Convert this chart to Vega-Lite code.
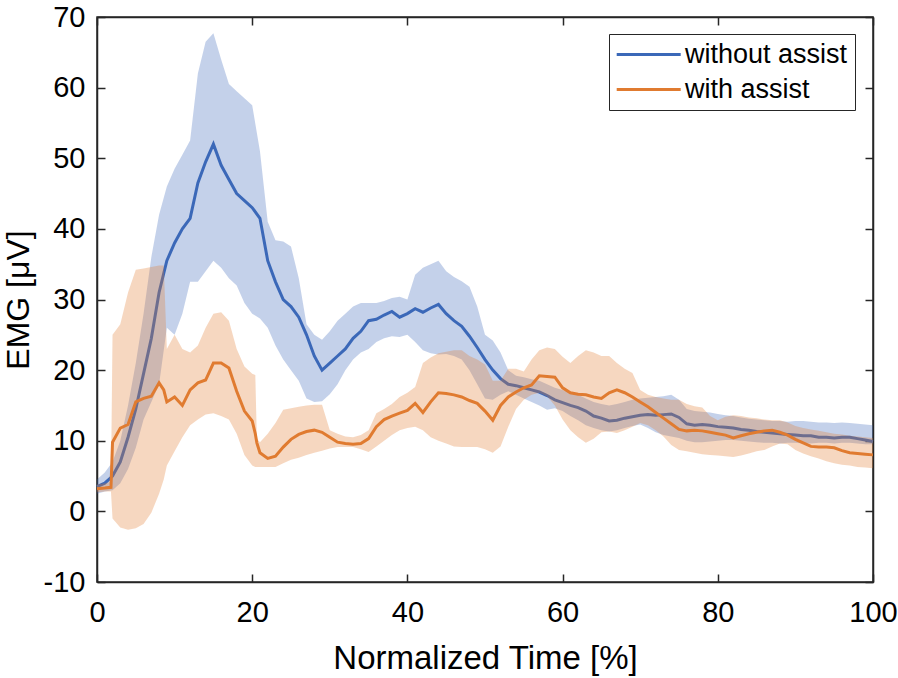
{
  "$schema": "https://vega.github.io/schema/vega-lite/v6.json",
  "width": 776,
  "height": 565,
  "autosize": "none",
  "padding": {"left": 97, "top": 17, "right": 25, "bottom": 96},
  "background": "#ffffff",
  "datasets": {
    "without": [
      {"t":0,"m":3.5,"lo":2.5,"hi":4.5},{"t":1,"m":4.0,"lo":2.8,"hi":5.5},{"t":2,"m":5.0,"lo":3.0,"hi":7},{"t":3,"m":7.0,"lo":4,"hi":10},
      {"t":4,"m":10.5,"lo":6,"hi":15},{"t":5,"m":14.5,"lo":9,"hi":21},{"t":6,"m":19.5,"lo":13,"hi":28},{"t":7,"m":24.5,"lo":15.5,"hi":36},
      {"t":8,"m":31.0,"lo":18,"hi":42},{"t":9,"m":35.5,"lo":26,"hi":46},{"t":10,"m":38.0,"lo":25,"hi":48.5},{"t":11,"m":40.0,"lo":28,"hi":50.5},
      {"t":12,"m":41.5,"lo":32.5,"hi":52.5},{"t":13,"m":46.5,"lo":32.5,"hi":62},{"t":14,"m":49.5,"lo":34,"hi":66.5},{"t":15,"m":52.0,"lo":35.5,"hi":67.7},
      {"t":16,"m":49.0,"lo":34.5,"hi":64},{"t":17,"m":47.0,"lo":33,"hi":60.5},{"t":18,"m":45.0,"lo":32,"hi":59.5},{"t":19,"m":44.0,"lo":29.5,"hi":58.5},
      {"t":20,"m":43.0,"lo":28,"hi":57.5},{"t":21,"m":41.5,"lo":27.3,"hi":51},{"t":22,"m":35.5,"lo":26,"hi":41},{"t":23,"m":32.5,"lo":23.5,"hi":38.4},
      {"t":24,"m":30.0,"lo":21.5,"hi":38.2},{"t":25,"m":29.0,"lo":20,"hi":37.5},{"t":26,"m":27.5,"lo":18.5,"hi":33},{"t":27,"m":25.0,"lo":16,"hi":26.5},
      {"t":28,"m":22.0,"lo":15.5,"hi":25},{"t":29,"m":20.0,"lo":15.6,"hi":24.3},{"t":30,"m":21.0,"lo":16.6,"hi":25.5},{"t":31,"m":22.0,"lo":18,"hi":27},
      {"t":32,"m":23.0,"lo":20,"hi":28},{"t":33,"m":24.5,"lo":21.5,"hi":29},{"t":34,"m":25.5,"lo":22.5,"hi":29.5},{"t":35,"m":27.0,"lo":23,"hi":29.5},
      {"t":36,"m":27.2,"lo":24,"hi":29.5},{"t":37,"m":27.8,"lo":24.5,"hi":29.8},{"t":38,"m":28.3,"lo":24.8,"hi":30.2},{"t":39,"m":27.5,"lo":24.7,"hi":30.4},
      {"t":40,"m":28.0,"lo":25,"hi":30},{"t":41,"m":28.7,"lo":24,"hi":33.5},{"t":42,"m":28.2,"lo":22.8,"hi":34.5},{"t":43,"m":28.8,"lo":22.4,"hi":35},
      {"t":44,"m":29.3,"lo":22.2,"hi":35.5},{"t":45,"m":28.0,"lo":22.3,"hi":34},{"t":46,"m":27.0,"lo":22,"hi":33.2},{"t":47,"m":26.2,"lo":21.5,"hi":32.6},
      {"t":48,"m":24.8,"lo":20,"hi":31.8},{"t":49,"m":23.2,"lo":18,"hi":29},{"t":50,"m":21.5,"lo":16,"hi":25},{"t":51,"m":20.0,"lo":15.8,"hi":24.2},
      {"t":52,"m":18.8,"lo":16.5,"hi":22.5},{"t":53,"m":18.0,"lo":17,"hi":20},{"t":54,"m":17.8,"lo":16.5,"hi":19.2},{"t":55,"m":17.5,"lo":16,"hi":19},
      {"t":56,"m":17.2,"lo":15.5,"hi":18.7},{"t":57,"m":16.9,"lo":15,"hi":18.5},{"t":58,"m":16.4,"lo":14.4,"hi":18},{"t":59,"m":15.8,"lo":14.6,"hi":17.5},
      {"t":60,"m":15.4,"lo":14.2,"hi":17.2},{"t":61,"m":15.0,"lo":13.5,"hi":16.8},{"t":62,"m":14.7,"lo":12.9,"hi":16.5},{"t":63,"m":14.2,"lo":12.2,"hi":16},
      {"t":64,"m":13.5,"lo":11.8,"hi":15.5},{"t":65,"m":13.2,"lo":11.5,"hi":15.2},{"t":66,"m":12.8,"lo":11.3,"hi":15},{"t":67,"m":12.9,"lo":11.5,"hi":15.2},
      {"t":68,"m":13.2,"lo":11.8,"hi":15.5},{"t":69,"m":13.4,"lo":12.1,"hi":15.8},{"t":70,"m":13.6,"lo":12.3,"hi":16},{"t":71,"m":13.7,"lo":11.8,"hi":16.1},
      {"t":72,"m":13.6,"lo":11.2,"hi":16.2},{"t":73,"m":13.7,"lo":10.8,"hi":16.3},{"t":74,"m":13.8,"lo":10.6,"hi":16.5},{"t":75,"m":13.3,"lo":10.4,"hi":15.8},
      {"t":76,"m":12.4,"lo":10,"hi":14.5},{"t":77,"m":12.2,"lo":9.8,"hi":14.2},{"t":78,"m":12.3,"lo":9.8,"hi":14.1},{"t":79,"m":12.2,"lo":9.9,"hi":14},
      {"t":80,"m":12.0,"lo":10,"hi":13.8},{"t":81,"m":11.9,"lo":10.1,"hi":13.6},{"t":82,"m":11.8,"lo":10.1,"hi":13.5},{"t":83,"m":11.6,"lo":10,"hi":13.3},
      {"t":84,"m":11.5,"lo":9.9,"hi":13.1},{"t":85,"m":11.3,"lo":9.8,"hi":13},{"t":86,"m":11.2,"lo":9.7,"hi":12.9},{"t":87,"m":11.1,"lo":9.7,"hi":12.8},
      {"t":88,"m":11.0,"lo":9.6,"hi":12.8},{"t":89,"m":10.9,"lo":9.7,"hi":12.7},{"t":90,"m":10.8,"lo":9.7,"hi":12.8},{"t":91,"m":10.7,"lo":9.6,"hi":12.8},
      {"t":92,"m":10.7,"lo":9.6,"hi":12.7},{"t":93,"m":10.5,"lo":9.7,"hi":12.6},{"t":94,"m":10.5,"lo":9.7,"hi":12.6},{"t":95,"m":10.4,"lo":9.6,"hi":12.5},
      {"t":96,"m":10.5,"lo":9.7,"hi":12.6},{"t":97,"m":10.5,"lo":9.7,"hi":12.5},{"t":98,"m":10.3,"lo":9.6,"hi":12.4},{"t":99,"m":10.1,"lo":9.5,"hi":12.3},
      {"t":100,"m":9.9,"lo":9.5,"hi":12.2}
    ],
    "with": [
      {"t":0,"m":3.2,"lo":2.7,"hi":3.8},{"t":1,"m":3.3,"lo":2.8,"hi":4.0},{"t":1.8,"m":3.4,"lo":2.8,"hi":4.2},{"t":2,"m":9.8,"lo":-1,"hi":25},
      {"t":3,"m":11.8,"lo":-2.3,"hi":26.5},{"t":4,"m":12.3,"lo":-2.6,"hi":31},{"t":5,"m":15.5,"lo":-2.4,"hi":34.2},{"t":6,"m":16.0,"lo":-1.8,"hi":34.4},
      {"t":7,"m":16.3,"lo":-0.2,"hi":34.6},{"t":8,"m":18.2,"lo":2.5,"hi":34.8},{"t":8.6,"m":17.2,"lo":4.5,"hi":34.8},{"t":9,"m":15.5,"lo":6.5,"hi":23},
      {"t":10,"m":16.2,"lo":8.5,"hi":25},{"t":11,"m":15.0,"lo":10.5,"hi":23},{"t":12,"m":17.2,"lo":12.2,"hi":22.5},{"t":13,"m":18.2,"lo":13,"hi":23.5},
      {"t":14,"m":18.6,"lo":13.7,"hi":26},{"t":15,"m":21.0,"lo":13.9,"hi":28},{"t":16,"m":21.0,"lo":13.5,"hi":28.2},{"t":17,"m":20.3,"lo":13,"hi":27},
      {"t":18,"m":17.0,"lo":11,"hi":23},{"t":19,"m":14.2,"lo":8,"hi":20.5},{"t":20,"m":12.8,"lo":6.5,"hi":19.5},{"t":20.4,"m":11.0,"lo":6.3,"hi":19.3},
      {"t":20.6,"m":9.7,"lo":6.3,"hi":10.3},{"t":21,"m":8.3,"lo":6.3,"hi":9.8},{"t":22,"m":7.5,"lo":6.3,"hi":11},{"t":23,"m":7.8,"lo":6.3,"hi":12.5},
      {"t":24,"m":9.1,"lo":6.8,"hi":14.4},{"t":25,"m":10.2,"lo":7.3,"hi":14.6},{"t":26,"m":10.9,"lo":7.6,"hi":14.8},{"t":27,"m":11.3,"lo":8,"hi":15},
      {"t":28,"m":11.5,"lo":8.3,"hi":15.1},{"t":29,"m":11.2,"lo":8.6,"hi":15.1},{"t":30,"m":10.5,"lo":8.9,"hi":11.5},{"t":31,"m":9.8,"lo":9.1,"hi":11},
      {"t":32,"m":9.6,"lo":9.1,"hi":10.6},{"t":33,"m":9.5,"lo":9.1,"hi":10.5},{"t":34,"m":9.6,"lo":8.8,"hi":10.8},{"t":35,"m":10.3,"lo":8.4,"hi":11.5},
      {"t":36,"m":12.0,"lo":9.2,"hi":13.9},{"t":37,"m":13.0,"lo":10,"hi":14.5},{"t":38,"m":13.5,"lo":10.8,"hi":15.2},{"t":39,"m":13.9,"lo":11.5,"hi":16.2},
      {"t":40,"m":14.3,"lo":11.8,"hi":16.8},{"t":41,"m":15.3,"lo":12,"hi":17.6},{"t":42,"m":14.0,"lo":11.5,"hi":21},{"t":43,"m":15.5,"lo":10.5,"hi":21.8},
      {"t":44,"m":16.8,"lo":10,"hi":22.4},{"t":45,"m":16.7,"lo":9.6,"hi":22.6},{"t":46,"m":16.5,"lo":9.2,"hi":22.8},{"t":47,"m":16.2,"lo":9.1,"hi":22.8},
      {"t":48,"m":15.7,"lo":9.1,"hi":22},{"t":49,"m":15.3,"lo":9.1,"hi":21.5},{"t":50,"m":14.2,"lo":8.8,"hi":20.8},{"t":51,"m":12.9,"lo":8.3,"hi":18.5},
      {"t":52,"m":15.0,"lo":9.2,"hi":18.5},{"t":53,"m":16.2,"lo":12,"hi":20.2},{"t":54,"m":16.9,"lo":14.5,"hi":20.2},{"t":55,"m":17.5,"lo":15.8,"hi":19.8},
      {"t":56,"m":17.9,"lo":16.5,"hi":21.5},{"t":57,"m":19.2,"lo":16.8,"hi":22.8},{"t":58,"m":19.1,"lo":16.3,"hi":23.2},{"t":59,"m":19.0,"lo":15,"hi":23},
      {"t":60,"m":17.5,"lo":13,"hi":21.9},{"t":61,"m":16.8,"lo":11.5,"hi":21},{"t":62,"m":16.6,"lo":10.5,"hi":22},{"t":63,"m":16.5,"lo":9.7,"hi":22.8},
      {"t":64,"m":16.2,"lo":10.3,"hi":22.5},{"t":65,"m":16.0,"lo":11.2,"hi":22},{"t":66,"m":16.8,"lo":11.3,"hi":22},{"t":67,"m":17.2,"lo":11.1,"hi":21},
      {"t":68,"m":16.8,"lo":11.5,"hi":20.2},{"t":69,"m":16.2,"lo":12,"hi":19.6},{"t":70,"m":15.5,"lo":12.5,"hi":17.2},{"t":71,"m":14.8,"lo":12.2,"hi":16.5},
      {"t":72,"m":14.0,"lo":11.5,"hi":16.2},{"t":73,"m":13.2,"lo":10.6,"hi":16},{"t":74,"m":12.4,"lo":9.4,"hi":15.8},{"t":75,"m":11.6,"lo":8.7,"hi":15.8},
      {"t":76,"m":11.4,"lo":8.5,"hi":15.2},{"t":77,"m":11.5,"lo":8.3,"hi":14.9},{"t":78,"m":11.4,"lo":8.1,"hi":14.7},{"t":79,"m":11.2,"lo":8,"hi":13.5},
      {"t":80,"m":11.0,"lo":7.9,"hi":12.9},{"t":81,"m":10.8,"lo":7.8,"hi":13.4},{"t":82,"m":10.4,"lo":7.7,"hi":13.6},{"t":83,"m":10.7,"lo":7.9,"hi":13.5},
      {"t":84,"m":11.0,"lo":8.2,"hi":13.3},{"t":85,"m":11.2,"lo":8.5,"hi":13.2},{"t":86,"m":11.4,"lo":8.7,"hi":13},{"t":87,"m":11.5,"lo":9.2,"hi":12.9},
      {"t":88,"m":11.2,"lo":9.6,"hi":12.9},{"t":89,"m":10.8,"lo":9.5,"hi":12.6},{"t":90,"m":10.2,"lo":8.7,"hi":12.1},{"t":91,"m":9.7,"lo":8.2,"hi":11.8},
      {"t":92,"m":9.2,"lo":7.8,"hi":11.6},{"t":93,"m":9.1,"lo":7.5,"hi":11.4},{"t":94,"m":9.1,"lo":7.1,"hi":11.2},{"t":95,"m":9.0,"lo":6.8,"hi":11.0},
      {"t":96,"m":8.6,"lo":6.6,"hi":10.9},{"t":97,"m":8.3,"lo":6.5,"hi":10.7},{"t":98,"m":8.2,"lo":6.3,"hi":10.6},{"t":99,"m":8.1,"lo":6.2,"hi":10.5},
      {"t":100,"m":8.0,"lo":6.1,"hi":10.4}
    ]
  },
  "layer": [
    {
      "data": {"name": "without"},
      "mark": {"type": "area", "color": "#3B68B8", "opacity": 0.3},
      "encoding": {
        "x": {"field": "t", "type": "quantitative", "scale": {"domain": [0, 100], "nice": false, "zero": false},
              "axis": {"orient": "bottom", "values": [0, 20, 40, 60, 80, 100], "title": "Normalized Time [%]", "labelPadding": 24, "titlePadding": 15}},
        "y": {"field": "lo", "type": "quantitative", "scale": {"domain": [-10, 70], "nice": false, "zero": false},
              "axis": {"orient": "left", "values": [-10, 0, 10, 20, 30, 40, 50, 60, 70], "labelExpr": "'' + datum.value", "title": "EMG [μV]", "titleFontSize": 32, "labelPadding": 20, "titlePadding": 8}},
        "y2": {"field": "hi"}
      }
    },
    {
      "data": {"name": "without"},
      "transform": [{"calculate": "'without assist'", "as": "s"}],
      "mark": {"type": "line", "strokeWidth": 3},
      "encoding": {
        "x": {"field": "t", "type": "quantitative", "axis": {"orient": "top", "values": [0, 20, 40, 60, 80, 100], "labels": false, "title": null}},
        "y": {"field": "m", "type": "quantitative", "axis": {"orient": "right", "values": [-10, 0, 10, 20, 30, 40, 50, 60, 70], "labels": false, "title": null}},
        "color": {"field": "s", "type": "nominal",
                  "scale": {"domain": ["without assist", "with assist"], "range": ["#3B68B8", "#E07B30"]},
                  "legend": {"orient": "none", "legendX": 512, "legendY": 17, "title": null,
                             "symbolType": "M-1.6,0H6.4", "symbolSize": 256, "symbolStrokeWidth": 3,
                             "labelFontSize": 27, "labelOffset": 42, "labelLimit": 400, "padding": 7, "rowPadding": 7,
                             "strokeColor": "#262626", "fillColor": "#ffffff", "labelColor": "#000000"}}
      }
    },
    {
      "data": {"name": "with"},
      "mark": {"type": "area", "color": "#E07B30", "opacity": 0.3},
      "encoding": {
        "x": {"field": "t", "type": "quantitative", "axis": null},
        "y": {"field": "lo", "type": "quantitative", "axis": null},
        "y2": {"field": "hi"}
      }
    },
    {
      "data": {"name": "with"},
      "transform": [{"calculate": "'with assist'", "as": "s"}],
      "mark": {"type": "line", "strokeWidth": 3},
      "encoding": {
        "x": {"field": "t", "type": "quantitative", "axis": null},
        "y": {"field": "m", "type": "quantitative", "axis": null},
        "color": {"field": "s", "type": "nominal"}
      }
    }
  ],
  "resolve": {"axis": {"x": "independent", "y": "independent"}},
  "config": {
    "font": "Liberation Sans",
    "view": {"stroke": "#262626", "strokeWidth": 1.5},
    "axis": {"grid": false, "domainColor": "#262626", "domainWidth": 1.5, "tickColor": "#262626", "tickWidth": 1.5, "tickSize": -8,
             "labelFlush": false, "labelOverlap": false,
             "labelFont": "Liberation Sans", "labelFontSize": 29, "labelColor": "#000000",
             "titleFont": "Liberation Sans", "titleFontSize": 33, "titleFontWeight": "normal", "titleColor": "#000000"},
    "legend": {"labelFont": "Liberation Sans"}
  }
}
